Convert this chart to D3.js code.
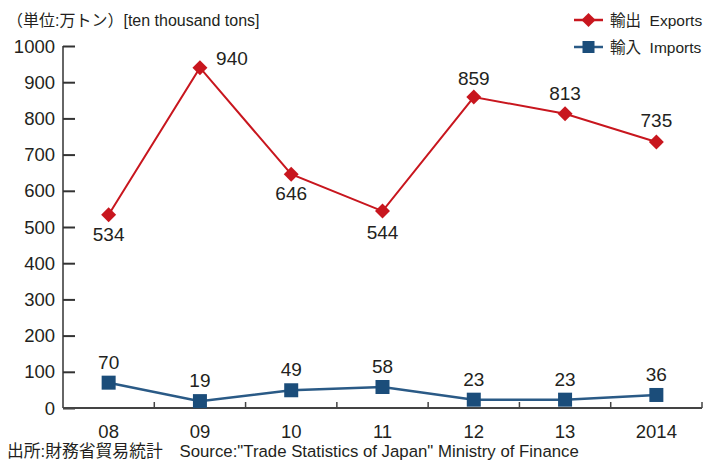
<!DOCTYPE html>
<html lang="ja">
<head>
<meta charset="UTF-8" />
<title>Exports and Imports</title>
<style>
  body { margin: 0; background: #fff; }
  svg { display: block; font-family: "Liberation Sans", Arial, "Noto Sans CJK JP", sans-serif; }
  text { fill: #231f20; }
</style>
</head>
<body>
<div id="chart"></div>
<script src="https://cdn.jsdelivr.net/npm/d3@7"></script>
<script>
  const years = ["08", "09", "10", "11", "12", "13", "2014"];
  const exportsVals = [534, 940, 646, 544, 859, 813, 735];
  const importsVals = [70, 19, 49, 58, 23, 23, 36];
  const yTicks = [0, 100, 200, 300, 400, 500, 600, 700, 800, 900, 1000];

  const red = "#c8161e";
  const blue = "#1b4d7a";

  const W = 715, H = 460;
  const svg = d3.select("#chart").append("svg").attr("width", W).attr("height", H);

  const x = d3.scaleBand().domain(years).range([63, 702]);
  const y = d3.scaleLinear().domain([0, 1000]).range([408, 46]);

  // y axis, ticks point inwards
  const yAxis = svg.append("g")
    .attr("transform", "translate(63,0)")
    .call(d3.axisRight(y).tickValues(yTicks).tickSize(12).tickFormat(""));
  yAxis.select(".domain").attr("d", "M0,46V408");
  yAxis.selectAll("line").attr("stroke", "#333").attr("stroke-width", 2);
  yAxis.select(".domain").attr("stroke", "#333").attr("stroke-width", 1.5);

  svg.append("g").selectAll("text")
    .data(yTicks)
    .join("text")
    .attr("x", 55)
    .attr("y", d => y(d))
    .attr("dy", "0.36em")
    .attr("text-anchor", "end")
    .attr("font-size", 18.5)
    .text(d => d);

  // x axis with short inward ticks at the band boundaries
  const xAxis = svg.append("g").attr("transform", "translate(0,408)");
  xAxis.append("line").attr("x1", 63).attr("x2", 702).attr("stroke", "#444").attr("stroke-width", 1.8);
  xAxis.selectAll("line.tk")
    .data(years.slice(1).concat(["end"]))
    .join("line")
    .attr("class", "tk")
    .attr("x1", d => d === "end" ? 702 : x(d))
    .attr("x2", d => d === "end" ? 702 : x(d))
    .attr("y1", 0).attr("y2", -6)
    .attr("stroke", "#444").attr("stroke-width", 1.5);
  xAxis.selectAll("text")
    .data(years)
    .join("text")
    .attr("x", d => x(d) + x.bandwidth() / 2)
    .attr("y", 23)
    .attr("dy", "0.36em")
    .attr("text-anchor", "middle")
    .attr("font-size", 18.5)
    .text(d => d);

  const cx = (d, i) => x(years[i]) + x.bandwidth() / 2;
  const line = d3.line().x((d, i) => cx(d, i)).y(d => y(d));

  // exports
  svg.append("path").datum(exportsVals)
    .attr("d", line).attr("fill", "none").attr("stroke", red).attr("stroke-width", 2);
  svg.append("g").selectAll("path")
    .data(exportsVals)
    .join("path")
    .attr("d", d3.symbol(d3.symbolSquare, 112))
    .attr("transform", (d, i) => `translate(${cx(d, i)},${y(d)}) rotate(45)`)
    .attr("fill", red);

  // label offsets (dx, dy from point)
  const expOff = [[0, 19], [32, -10], [0, 19], [0, 21], [0, -19], [0, -21], [0, -22]];
  svg.append("g").selectAll("text")
    .data(exportsVals)
    .join("text")
    .attr("x", (d, i) => cx(d, i) + expOff[i][0])
    .attr("y", (d, i) => y(d) + expOff[i][1])
    .attr("dy", "0.36em")
    .attr("text-anchor", "middle")
    .attr("font-size", 19)
    .text(d => d);

  // imports
  svg.append("path").datum(importsVals)
    .attr("d", line).attr("fill", "none").attr("stroke", "#2a5a86").attr("stroke-width", 2.5);
  svg.append("g").selectAll("rect")
    .data(importsVals)
    .join("rect")
    .attr("x", (d, i) => cx(d, i) - 7)
    .attr("y", d => y(d) - 7)
    .attr("width", 14).attr("height", 14)
    .attr("fill", blue);
  svg.append("g").selectAll("text")
    .data(importsVals)
    .join("text")
    .attr("x", (d, i) => cx(d, i))
    .attr("y", d => y(d) - 21)
    .attr("dy", "0.36em")
    .attr("text-anchor", "middle")
    .attr("font-size", 19)
    .text(d => d);

  // unit title
  svg.append("text")
    .attr("x", 7).attr("y", 20).attr("dy", "0.36em")
    .attr("font-size", 16)
    .text("（単位:万トン）[ten thousand tons]");

  // legend
  const legend = [
    { label: "輸出  Exports", color: red, shape: "diamond", yy: 20 },
    { label: "輸入  Imports", color: blue, shape: "square", yy: 47 }
  ];
  const lg = svg.append("g").selectAll("g").data(legend).join("g")
    .attr("transform", d => `translate(0,${d.yy})`);
  lg.append("line").attr("x1", 574).attr("x2", 603)
    .attr("stroke", d => d.shape === "square" ? "#2a5a86" : d.color).attr("stroke-width", 2.5);
  lg.append("path")
    .attr("d", d => d.shape === "diamond" ? d3.symbol(d3.symbolSquare, 100)() : d3.symbol(d3.symbolSquare, 144)())
    .attr("transform", d => `translate(588.5,0) rotate(${d.shape === "diamond" ? 45 : 0})`)
    .attr("fill", d => d.color);
  lg.append("text")
    .attr("x", 610).attr("dy", "0.36em")
    .attr("font-size", 15.5)
    .style("white-space", "pre")
    .text(d => d.label);

  // source
  svg.append("text")
    .attr("x", 7).attr("y", 450.5).attr("dy", "0.36em")
    .attr("font-size", 16.8)
    .style("white-space", "pre")
    .text("出所:財務省貿易統計　Source:\"Trade Statistics of Japan\" Ministry of Finance");
</script>
</body>
</html>
